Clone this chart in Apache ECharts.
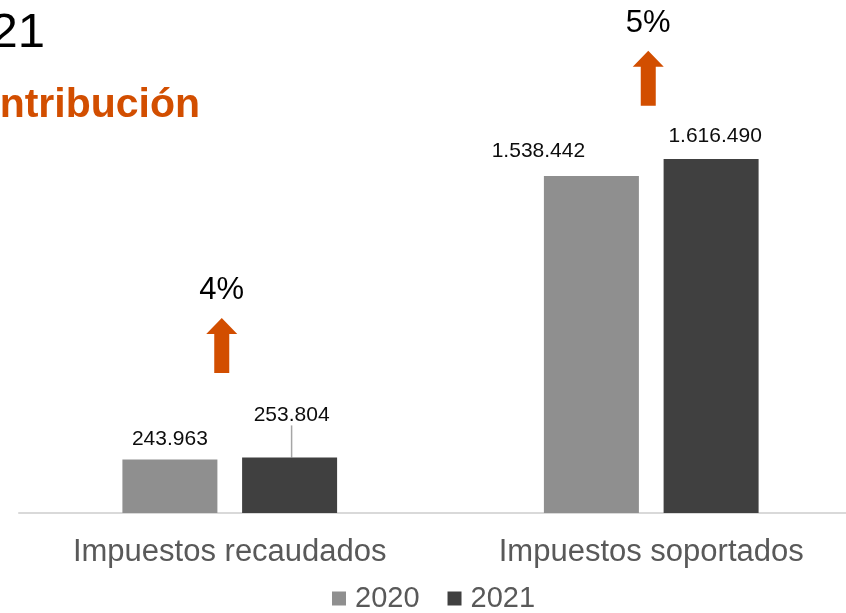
<!DOCTYPE html>
<html>
<head>
    <meta charset="UTF-8">
    <title>Contribución 2021</title>
    <script type="text/javascript" src="https://cdn.jsdelivr.net/npm/echarts@6/dist/echarts.min.js"></script>
</head>
<body style="margin: 0; background: #fff">
    <div id="container" style="width: 846px; height: 613px"></div>
    <script type="text/javascript">
        // datos
        var categorias = ['Impuestos recaudados', 'Impuestos soportados'];
        var anios = ['2020', '2021'];
        var valores2020 = [243963, 1538442];
        var valores2021 = [253804, 1616490];
        // altura (en unidades del eje) donde se dibujan las flechas de variación
        var nivelFlecha = [765000, 1985000];

        var naranja = '#D24E00';
        var fuente = "'Liberation Sans', Arial, sans-serif";

        function miles(v) {
            return String(v).replace(/\B(?=(\d{3})+(?!\d))/g, '.');
        }

        var variacion = valores2021.map(function (v, i) {
            return Math.round((v / valores2020[i] - 1) * 100) + '%';
        });

        var flecha = 'path://M15.5,0 L31,16 L23,16 L23,55 L8,55 L8,16 L0,16 Z';
        var offsetsFlecha = [[-8, 0], [-3, 0]];

        var dom = document.getElementById('container');
        var myChart = echarts.init(dom);

        var option = {
            animation: false,
            textStyle: { fontFamily: fuente },
            graphic: [{
                type: 'text',
                left: -64,
                top: 9,
                style: {
                    text: '2021',
                    fontSize: 49,
                    fontFamily: fuente,
                    fill: '#000'
                }
            }, {
                type: 'text',
                left: -55,
                top: 85,
                style: {
                    text: 'Contribución',
                    fontSize: 41,
                    fontWeight: 'bold',
                    fontFamily: fuente,
                    fill: naranja
                }
            }],
            legend: {
                data: anios,
                left: 332,
                top: 584,
                padding: 0,
                itemWidth: 14,
                itemHeight: 14,
                itemGap: 28,
                icon: 'rect',
                textStyle: {
                    fontSize: 29,
                    color: '#595959',
                    padding: [0, 0, 0, 4]
                }
            },
            grid: {
                left: 19,
                width: 843,
                top: 53,
                bottom: 100,
                outerBoundsMode: 'none'
            },
            xAxis: {
                type: 'category',
                data: categorias,
                axisTick: { show: false },
                axisLine: { lineStyle: { color: '#D9D9D9', width: 2 } },
                axisLabel: {
                    fontSize: 31,
                    color: '#595959',
                    margin: 24
                }
            },
            yAxis: {
                type: 'value',
                min: 0,
                max: 2100000,
                show: false,
                splitLine: { show: false }
            },
            series: [{
                name: '2020',
                type: 'bar',
                barWidth: 95,
                barGap: '26%',
                itemStyle: { color: '#8F8F8F' },
                label: {
                    show: true,
                    position: 'top',
                    distance: 10,
                    fontSize: 21,
                    color: '#0D0D0D',
                    formatter: function (p) { return miles(p.value); }
                },
                labelLayout: function (p) {
                    if (p.dataIndex === 1) return { dx: -53, dy: -4 };
                    return {};
                },
                data: valores2020
            }, {
                name: '2021',
                type: 'bar',
                barWidth: 95,
                itemStyle: { color: '#404040' },
                label: {
                    show: true,
                    position: 'top',
                    distance: 10,
                    fontSize: 21,
                    color: '#0D0D0D',
                    formatter: function (p) { return miles(p.value); }
                },
                labelLine: {
                    show: false,
                    lineStyle: { color: '#A6A6A6', width: 1.5 }
                },
                labelLayout: function (p) {
                    if (p.dataIndex === 0) return { dx: 2, dy: -22 };
                    if (p.dataIndex === 1) return { dx: 4, dy: -2 };
                    return {};
                },
                data: valores2021.map(function (v, i) {
                    return i === 0 ? { value: v, labelLine: { show: true } } : v;
                })
            }, {
                name: 'variacion',
                type: 'scatter',
                clip: false,
                symbol: flecha,
                symbolSize: [31, 55],
                itemStyle: { color: naranja, opacity: 1 },
                label: {
                    show: true,
                    position: 'top',
                    distance: 12,
                    fontSize: 31,
                    color: '#000',
                    formatter: function (p) { return variacion[p.dataIndex]; }
                },
                silent: true,
                data: nivelFlecha.map(function (v, i) {
                    return { value: [i, v], symbolOffset: offsetsFlecha[i] };
                })
            }]
        };

        myChart.setOption(option);
    </script>
</body>
</html>
